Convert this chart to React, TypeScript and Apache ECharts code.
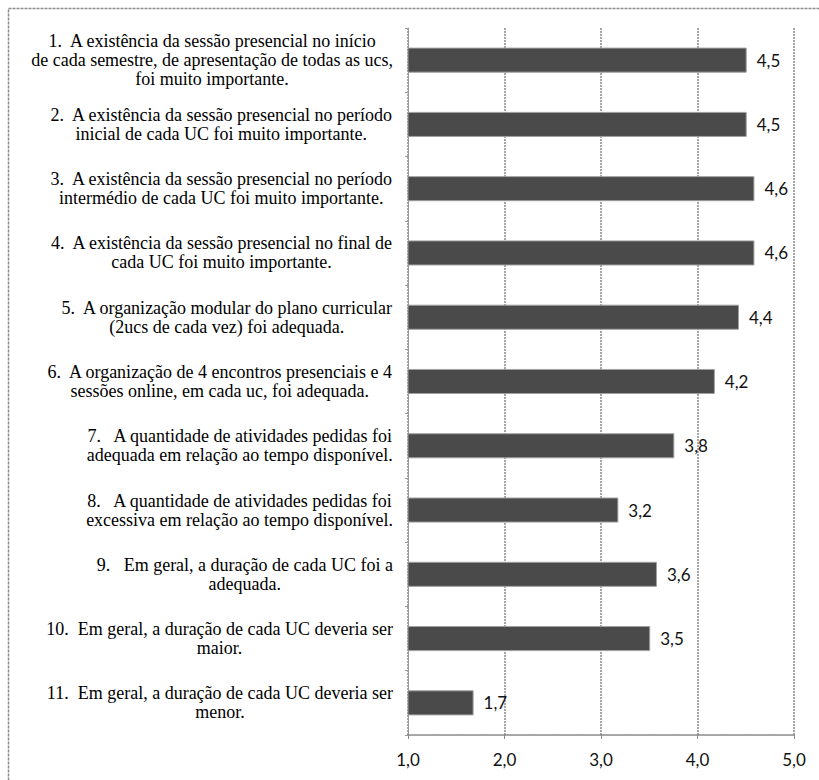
import React, { useEffect, useRef } from "react";
import * as echarts from "echarts";

const categories: string[] = [
  "1.  A existência da sessão presencial no início\nde cada semestre, de apresentação de todas as ucs,\nfoi muito importante.",
  "2.  A existência da sessão presencial no período\ninicial de cada UC foi muito importante.",
  "3.  A existência da sessão presencial no período\nintermédio de cada UC foi muito importante.",
  "4.  A existência da sessão presencial no final de\ncada UC foi muito importante.",
  "5.  A organização modular do plano curricular\n(2ucs de cada vez) foi adequada.",
  "6.  A organização de 4 encontros presenciais e 4\nsessões online, em cada uc, foi adequada.",
  "7.   A quantidade de atividades pedidas foi\nadequada em relação ao tempo disponível.",
  "8.   A quantidade de atividades pedidas foi\nexcessiva em relação ao tempo disponível.",
  "9.   Em geral, a duração de cada UC foi a\nadequada.",
  "10.  Em geral, a duração de cada UC deveria ser\nmaior.",
  "11.  Em geral, a duração de cada UC deveria ser\nmenor.",
];

const values: number[] = [4.51, 4.51, 4.59, 4.59, 4.43, 4.18, 3.76, 3.18, 3.58, 3.51, 1.68];

const xMin = 1;
const xMax = 5;
const xInterval = 1;

const fmt = (v: number) => v.toFixed(1).replace(".", ",");

const SERIF = "Liberation Serif, Times New Roman, serif";

export default function App() {
  const ref = useRef<HTMLDivElement>(null);
  useEffect(() => {
    if (!ref.current) return;
    const chart = echarts.init(ref.current, null, { renderer: "svg" });
    chart.setOption({
      animation: false,
      backgroundColor: "#ffffff",
      graphic: [
        {
          type: "rect",
          shape: { x: 8.5, y: 8.5, width: 900, height: 900 },
          style: { fill: "none", stroke: "#8a8a8a", lineWidth: 1.5, lineDash: [3, 1] },
          silent: true,
        },
      ],
      grid: { left: 408, right: 25, top: 28, bottom: 45, containLabel: false },
      xAxis: {
        type: "value",
        min: xMin,
        max: xMax,
        interval: xInterval,
        axisLine: { show: true, lineStyle: { color: "#888", type: [2, 1], width: 1.5 } },
        axisTick: { show: true, length: 4, lineStyle: { color: "#888" } },
        splitLine: { show: true, lineStyle: { color: "#888", type: [2, 1], width: 1.5 } },
        axisLabel: {
          formatter: (v: number) => fmt(v),
          fontFamily: "Lato",
          fontSize: 17,
          color: "#111",
          margin: 16,
        },
      },
      yAxis: {
        type: "category",
        inverse: true,
        data: categories,
        axisLine: { show: true, lineStyle: { color: "#999", width: 1 } },
        axisTick: { show: true, length: 3, inside: false, lineStyle: { color: "#999" } },
        axisLabel: {
          margin: 15,
          align: "right",
          fontFamily: SERIF,
          fontSize: 18,
          lineHeight: 19,
          color: "#000",
          formatter: (v: string) => `{c|${v}}`,
          rich: {
            c: {
              align: "center",
              fontFamily: SERIF,
              fontSize: 18,
              lineHeight: 19,
              color: "#000",
            },
          },
        },
      },
      series: [
        {
          type: "bar",
          data: values,
          barCategoryGap: "61%",
          itemStyle: { color: "#4a4a4a", borderColor: "#a0a0a0", borderWidth: 1 },
          label: {
            show: true,
            position: "right",
            distance: 10,
            formatter: (p: any) => fmt(p.value),
            fontFamily: "Lato",
            fontSize: 17,
            color: "#111",
          },
        },
      ],
    });
    return () => chart.dispose();
  }, []);
  return (
    <div
      ref={ref}
      style={{ position: "absolute", left: 0, top: 0, width: 819, height: 780 }}
    />
  );
}
